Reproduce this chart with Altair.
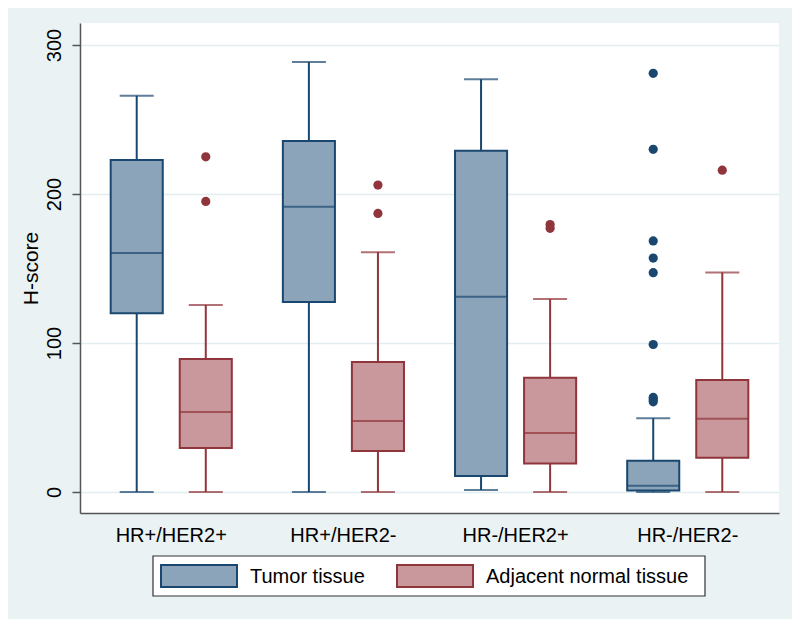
import altair as alt
import pandas as pd

groups = ["HR+/HER2+", "HR+/HER2-", "HR-/HER2+", "HR-/HER2-"]
series = ["Tumor tissue", "Adjacent normal tissue"]

# box statistics per group
tumor_lo = [0, 0, 1.3, 0]
tumor_q1 = [120.0, 127.5, 10.7, 1.0]
tumor_med = [160.5, 191.5, 131.0, 4.2]
tumor_q3 = [222.8, 235.6, 229.0, 21.0]
tumor_hi = [266.0, 288.6, 277.0, 49.5]

adj_lo = [0, 0, 0, 0]
adj_q1 = [29.5, 27.5, 19.2, 23.0]
adj_med = [53.7, 47.7, 39.6, 49.2]
adj_q3 = [89.3, 87.2, 76.7, 75.2]
adj_hi = [125.5, 161.0, 129.5, 147.4]

# outliers
tumor_out_group = ["HR-/HER2-"] * 9
tumor_out_value = [281, 230, 168.5, 157, 147.2, 99, 63.5, 62, 60.5]
adj_out_group = ["HR+/HER2+", "HR+/HER2+", "HR+/HER2-", "HR+/HER2-", "HR-/HER2+", "HR-/HER2+", "HR-/HER2-"]
adj_out_value = [225, 195, 206, 187, 179.5, 177, 216]

fill_colors = ["#8CA4B9", "#C9989C"]
stroke_colors = ["#1A476F", "#90353B"]

rows = []
for i, g in enumerate(groups):
    rows.append(dict(group=g, series=series[0], lo=tumor_lo[i], q1=tumor_q1[i],
                     med=tumor_med[i], q3=tumor_q3[i], hi=tumor_hi[i]))
    rows.append(dict(group=g, series=series[1], lo=adj_lo[i], q1=adj_q1[i],
                     med=adj_med[i], q3=adj_q3[i], hi=adj_hi[i]))
box_df = pd.DataFrame(rows)

out_rows = [dict(group=g, series=series[0], value=v) for g, v in zip(tumor_out_group, tumor_out_value)]
out_rows += [dict(group=g, series=series[1], value=v) for g, v in zip(adj_out_group, adj_out_value)]
out_df = pd.DataFrame(out_rows)

FONT = "Liberation Sans"

x_enc = alt.X("group:N", sort=groups,
              scale=alt.Scale(domain=groups, paddingInner=0, paddingOuter=0.03),
              axis=alt.Axis(title=None, labelAngle=0, ticks=False, tickSize=0,
                            labelFontSize=20, labelFont=FONT, labelColor="black",
                            labelPadding=12, domainColor="#555555", domainWidth=1.5,
                            grid=False))
xo_enc = alt.XOffset("series:N", sort=series,
                     scale=alt.Scale(domain=series, paddingOuter=0.3696, paddingInner=0.246))
yscale = alt.Scale(domain=[-14.1, 314.8], nice=False, zero=False)
y_axis = alt.Axis(title="H-score", values=[0, 100, 200, 300], labelAngle=-90,
                  labelAlign="center", labelBaseline="bottom", labelFontSize=20,
                  labelFont=FONT, labelColor="black", labelPadding=8,
                  tickSize=8, tickColor="#555555", tickWidth=1.5,
                  domainColor="#555555", domainWidth=1.5,
                  grid=True, gridColor="#E3EDF0", gridWidth=1.5,
                  titleFontSize=21, titleFont=FONT, titleFontWeight="normal",
                  titleColor="black", titlePadding=3)

stroke_scale = alt.Scale(domain=series, range=stroke_colors)
fill_scale = alt.Scale(domain=series, range=fill_colors)

base = alt.Chart(box_df)

whisker = base.mark_rule(strokeWidth=2).encode(
    x=x_enc, xOffset=xo_enc,
    y=alt.Y("lo:Q", scale=yscale, axis=y_axis), y2="hi:Q",
    stroke=alt.Stroke("series:N", scale=stroke_scale, legend=None))

caps_lo = base.mark_tick(size=34, thickness=2).encode(
    x=x_enc, xOffset=xo_enc, y=alt.Y("lo:Q", scale=yscale),
    color=alt.Color("series:N", scale=stroke_scale, legend=None))
caps_hi = base.mark_tick(size=34, thickness=2).encode(
    x=x_enc, xOffset=xo_enc, y=alt.Y("hi:Q", scale=yscale),
    color=alt.Color("series:N", scale=stroke_scale, legend=None))

box = base.mark_bar(strokeWidth=2).encode(
    x=x_enc, xOffset=xo_enc,
    y=alt.Y("q1:Q", scale=yscale), y2="q3:Q",
    fill=alt.Fill("series:N", scale=fill_scale, legend=None),
    stroke=alt.Stroke("series:N", scale=stroke_scale, legend=None))

median = base.mark_tick(size=52, thickness=2).encode(
    x=x_enc, xOffset=xo_enc, y=alt.Y("med:Q", scale=yscale),
    color=alt.Color("series:N", scale=stroke_scale, legend=None))

outliers = alt.Chart(out_df).mark_circle(size=85, opacity=1).encode(
    x=x_enc, xOffset=xo_enc, y=alt.Y("value:Q", scale=yscale),
    color=alt.Color("series:N", scale=stroke_scale, legend=None))

# manual legend (pixel layout below the plot area)
one = pd.DataFrame({"k": [0]})
leg_box = alt.Chart(one).mark_rect(fill="white", stroke="#333333", strokeWidth=1.2).encode(
    x=alt.value(73), x2=alt.value(625), y=alt.value(533), y2=alt.value(573))
leg_sw1 = alt.Chart(one).mark_rect(fill=fill_colors[0], stroke=stroke_colors[0], strokeWidth=2).encode(
    x=alt.value(81), x2=alt.value(157), y=alt.value(542), y2=alt.value(564))
leg_sw2 = alt.Chart(one).mark_rect(fill=fill_colors[1], stroke=stroke_colors[1], strokeWidth=2).encode(
    x=alt.value(317), x2=alt.value(393), y=alt.value(542), y2=alt.value(564))
leg_t1 = alt.Chart(one).mark_text(align="left", baseline="middle", fontSize=20, font=FONT,
                                  color="black").encode(
    x=alt.value(170), y=alt.value(554), text=alt.value(series[0]))
leg_t2 = alt.Chart(one).mark_text(align="left", baseline="middle", fontSize=20, font=FONT,
                                  color="black").encode(
    x=alt.value(406), y=alt.value(554), text=alt.value(series[1]))

chart = alt.layer(whisker, caps_lo, caps_hi, box, median, outliers,
                  leg_box, leg_sw1, leg_sw2, leg_t1, leg_t2).properties(
    width=699, height=490, autosize="none",
    padding={"left": 72, "top": 15, "right": 13, "bottom": 106},
    background="#EAF2F3"
).configure_view(fill="white", strokeWidth=0)

chart.save("out.html", embed_options={"renderer": "svg", "actions": False})
